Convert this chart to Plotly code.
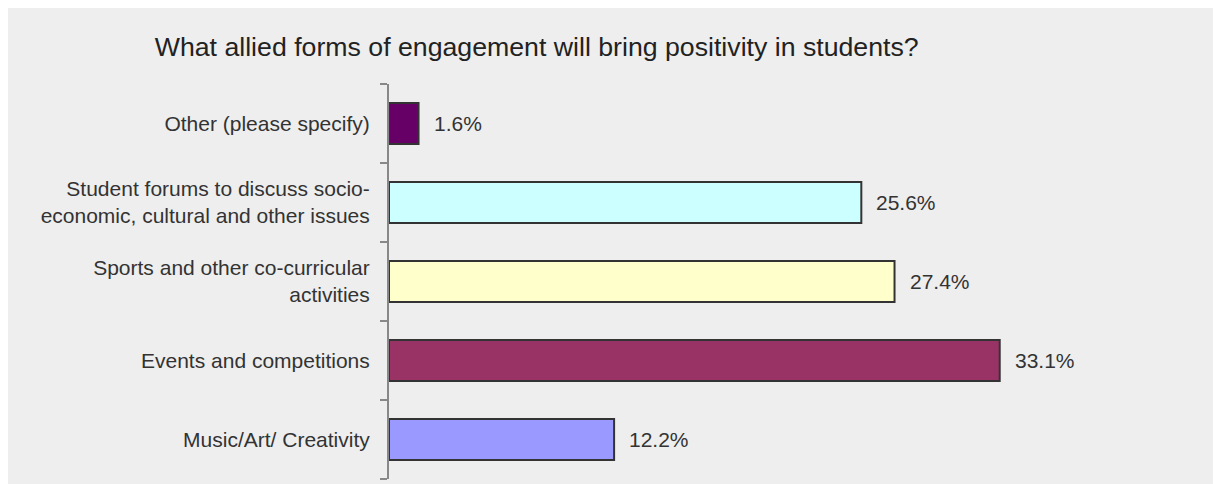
import plotly.graph_objects as go

categories = [
    "Music/Art/ Creativity",
    "Events and competitions",
    "Sports and other co-curricular<br>activities",
    "Student forums to discuss socio-<br>economic, cultural and other issues",
    "Other (please specify)",
]
values = [12.2, 33.1, 27.4, 25.6, 1.6]
colors = ["#9999ff", "#993366", "#ffffcc", "#ccffff", "#660066"]

fig = go.Figure()

fig.add_trace(go.Bar(
    x=values,
    y=categories,
    orientation="h",
    marker=dict(color=colors, line=dict(color="#333333", width=2)),
    width=0.52,
    hoverinfo="skip",
))

for v, c in zip(values, categories):
    fig.add_annotation(
        x=v, y=c, text=f"{v:.1f}%", showarrow=False,
        xanchor="left", xshift=13,
        font=dict(family="Liberation Sans, Arial", size=21, color="#333333"),
    )

fig.update_layout(
    width=1221, height=490,
    margin=dict(l=381, r=102, t=76, b=19),
    paper_bgcolor="#eeeeee",
    plot_bgcolor="#eeeeee",
    showlegend=False,
    title=dict(
        text="What allied forms of engagement will bring positivity in students?",
        x=0.433, xanchor="center", xref="container",
        y=1 - 38.5 / 490, yanchor="middle", yref="container",
        font=dict(family="Liberation Sans, Arial", size=26.7, color="#222222"),
    ),
    font=dict(family="Liberation Sans, Arial", size=21, color="#333333"),
    xaxis=dict(range=[0, 40], visible=False),
    yaxis=dict(
        type="category",
        showline=True, linecolor="#888888", linewidth=2,
        ticks="outside", ticklen=7, tickcolor="#888888", tickwidth=2,
        tickson="boundaries",
        ticklabelstandoff=13,
        showgrid=False, zeroline=False,
        tickfont=dict(family="Liberation Sans, Arial", size=21, color="#333333"),
    ),
)

fig.write_html("out.html")
